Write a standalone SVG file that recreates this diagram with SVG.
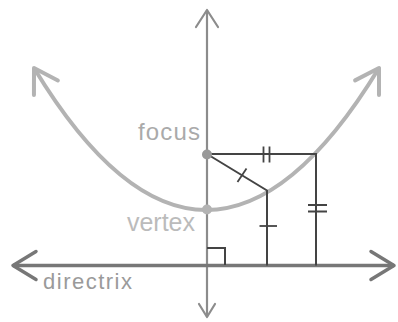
<svg xmlns="http://www.w3.org/2000/svg" width="398" height="322" viewBox="0 0 398 322">
  <style>
    .lbl { font-family: "Liberation Sans", Arial, sans-serif; }
    .blk { stroke: #444; stroke-width: 2; fill: none; }
    .tick { stroke: #444; stroke-width: 1.8; fill: none; }
  </style>
  <defs>
    <marker id="arrowDir" markerUnits="userSpaceOnUse" viewBox="-27 -18 31 36" markerWidth="31" markerHeight="36" refX="0" refY="0" orient="auto-start-reverse">
      <path d="M -23 -14 L 0 0 L -23 14" fill="none" stroke="#777" stroke-width="3.5" stroke-linecap="round" stroke-linejoin="round"/>
    </marker>
    <marker id="arrowPar" markerUnits="userSpaceOnUse" viewBox="-27 -18 31 36" markerWidth="31" markerHeight="36" refX="0" refY="0" orient="auto-start-reverse">
      <path d="M -23 -14 L 0 0 L -23 14" fill="none" stroke="#b3b3b3" stroke-width="4" stroke-linecap="round" stroke-linejoin="round"/>
    </marker>
    <marker id="arrowTop" markerUnits="userSpaceOnUse" viewBox="-20 -14 24 28" markerWidth="24" markerHeight="28" refX="0" refY="0" orient="auto">
      <path d="M -17 -11 L 0 0 L -17 11" fill="none" stroke="#8c8c8c" stroke-width="2.2" stroke-linecap="round" stroke-linejoin="round"/>
    </marker>
    <marker id="arrowBot" markerUnits="userSpaceOnUse" viewBox="-16 -11 20 22" markerWidth="20" markerHeight="22" refX="0" refY="0" orient="auto">
      <path d="M -13 -8 L 0 0 L -13 8" fill="none" stroke="#8c8c8c" stroke-width="2.2" stroke-linecap="round" stroke-linejoin="round"/>
    </marker>
  </defs>

  <g id="axis">
    <line x1="207" y1="164" x2="207" y2="10" stroke="#8c8c8c" stroke-width="2.2" marker-end="url(#arrowTop)"/>
    <line x1="207" y1="164" x2="207" y2="317" stroke="#8c8c8c" stroke-width="2.2" marker-end="url(#arrowBot)"/>
  </g>

  <g id="directrix">
    <line x1="13" y1="265.5" x2="394" y2="265.5" stroke="#777" stroke-width="3.5" marker-start="url(#arrowDir)" marker-end="url(#arrowDir)"/>
    <text class="lbl" x="43" y="288.5" font-size="22" fill="#9a9a9a" textLength="89" lengthAdjust="spacing">directrix</text>
  </g>

  <g id="parabola">
    <path d="M 34 68 Q 206 352 379 68" fill="none" stroke="#b3b3b3" stroke-width="4" marker-start="url(#arrowPar)" marker-end="url(#arrowPar)"/>
  </g>

  <g id="connectors">
    <path class="blk" d="M 207 154 H 316 V 265.5"/>
    <path class="blk" d="M 207 154 L 267 190.5 V 265.5"/>
    <path class="blk" d="M 207 248 H 225 V 265"/>
    <path class="tick" d="M 263.5 146.5 V 162.5 M 269.5 146.5 V 162.5"/>
    <path class="tick" d="M 237.5 182 L 246.5 168.5"/>
    <path class="tick" d="M 259.5 226 H 277"/>
    <path class="tick" d="M 308 205 H 327 M 308 211.5 H 327"/>
  </g>

  <g id="focus">
    <circle cx="207" cy="154.5" r="5" fill="#999"/>
    <text class="lbl" x="138" y="140" font-size="24" fill="#aaa" textLength="62" lengthAdjust="spacing">focus</text>
  </g>

  <g id="vertex">
    <circle cx="207" cy="209.5" r="5" fill="#b3b3b3"/>
    <text class="lbl" x="127" y="231" font-size="25" fill="#bbb" textLength="68" lengthAdjust="spacing">vertex</text>
  </g>
</svg>
